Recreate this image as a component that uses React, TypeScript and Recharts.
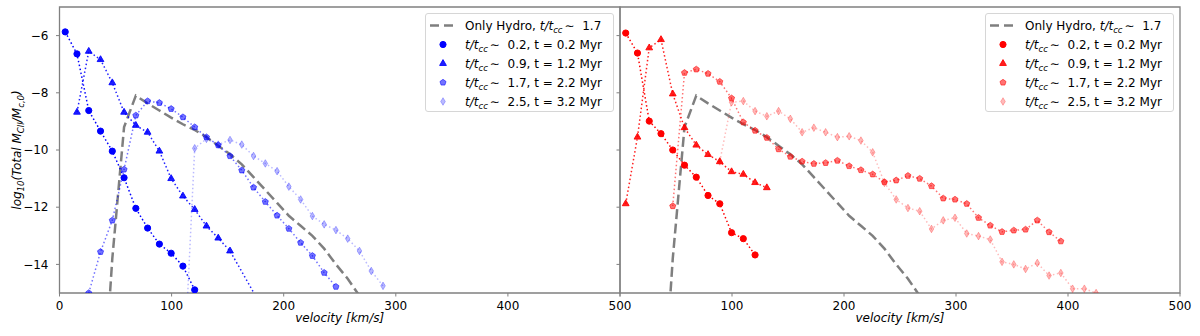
import { LineChart, Line, XAxis, YAxis, ReferenceArea } from "recharts";

// velocity bin centres (km/s), shared by every curve
const VELOCITY = [
  5.1, 15.6, 26.1, 36.6, 47.1, 57.6, 68.1, 78.6, 89.1, 99.6, 110.1, 120.6, 131.1, 141.6,
  152.1, 162.6, 173.1, 183.6, 194.1, 204.6, 215.1, 225.6, 236.1, 246.6, 257.1, 267.6,
  278.1, 288.6, 299.1, 309.6, 320.1, 330.6, 341.1, 351.6, 362.1, 372.6, 383.1, 393.6,
  404.1, 414.6, 425.1,
];

// only-hydro run, same curve in both panels
const HYDRO = [
  null, null, null, -20, -13.8, -9.2, -8.1, -8.37, -8.62, -8.87, -9.1, -9.3, -9.55, -9.85,
  -10.15, -10.5, -10.95, -11.4, -11.85, -12.3, -12.65, -13.0, -13.45, -14.0, -14.5, -15.1,
  -15.6,
];

// left panel (blue)
const BLUE_T02 = [-5.87, -6.64, -8.62, -9.34, -10.04, -10.97, -12.04, -12.73, -13.29, -13.61, -14.06, -14.89];
const BLUE_T09 = [
  null, -8.68, -6.55, -6.84, -7.65, -8.68, -9.14, -9.38, -10.04, -11.0, -11.61, -12.08, -12.66,
  -13.08, -13.53, null, null, -15.7,
];
const BLUE_T17 = [
  null, null, -15.0, -13.56, -12.46, -10.68, -8.79, -8.29, -8.35, -8.56, -8.85, -9.2, -9.55,
  -9.83, -10.21, -10.71, -11.31, -11.81, -12.29, -12.75, -13.24, -13.7, -14.29, -14.78,
];
const BLUE_T25 = [
  null, null, null, null, null, null, null, null, null, null, -18.5, -9.94, -9.61, -9.81,
  -9.65, -9.81, -10.21, -10.47, -10.74, -11.28, -11.73, -12.31, -12.6, -12.8, -13.1, -13.53,
  -14.23, -14.75,
];

// right panel (red)
const RED_T02 = [-5.91, -6.61, -8.99, -9.43, -10.0, -10.53, -10.95, -11.59, -11.88, -12.89, -13.1, -13.67];
const RED_T09 = [-11.88, -9.55, -6.43, -6.14, -8.04, -9.22, -9.83, -10.16, -10.41, -10.76, -10.85, -11.14, -11.32];
const RED_T17 = [
  null, null, null, null, -11.96, -7.3, -7.18, -7.33, -7.61, -8.19, -9.03, -9.32, -9.57, -9.97,
  -10.23, -10.4, -10.48, -10.45, -10.37, -10.56, -10.7, -10.85, -11.12, -11.06, -10.9, -11.0,
  -11.26, -11.69, -11.73, -11.88, -12.37, -12.64, -12.86, -12.81, -12.78, -12.46, -12.87, -13.19,
];
const RED_T25 = [
  null, null, null, null, null, null, null, null, -10.4, -8.33, -8.29, -8.64, -8.82, -8.64,
  -8.91, -9.38, -9.22, -9.38, -9.55, -9.52, -9.67, -10.08, -11.15, -11.73, -12.03, -12.14,
  -12.76, -12.46, -12.37, -12.92, -13.01, -13.13, -13.91, -14.0, -14.16, -13.95, -14.39,
  -14.3, -14.85, -14.85, -15.0,
];

const T_CC = ["0.2", "0.9", "1.7", "2.5"];
const T_MYR = ["0.2", "1.2", "2.2", "3.2"];
const HYDRO_T_CC = "1.7";
const X_TICKS = [0, 100, 200, 300, 400, 500];
const Y_TICKS = [-14, -12, -10, -8, -6];

const FONT = "DejaVu Sans";
const SPINE = "#808080";
const HYDRO_COLOR = "#7f7f7f";
const SHAPES = ["circle", "triangle", "pentagon", "diamond"];
const ALPHAS = [1, 0.88, 0.55, 0.27];
const KEYS = ["t02", "t09", "t17", "t25"];

const buildRows = (series: (number | null)[][]) =>
  VELOCITY.map((v, i) => {
    const row: Record<string, number | null> = { v, hydro: HYDRO[i] ?? null };
    series.forEach((s, k) => {
      row[KEYS[k]] = s[i] ?? null;
    });
    return row;
  });

const LEFT_ROWS = buildRows([BLUE_T02, BLUE_T09, BLUE_T17, BLUE_T25]);
const RIGHT_ROWS = buildRows([RED_T02, RED_T09, RED_T17, RED_T25]);

function Marker({ shape, x, y, color, alpha }: any) {
  const common = { fill: color, fillOpacity: alpha, stroke: color, strokeOpacity: alpha, strokeWidth: 1 };
  if (shape === "circle") return <circle cx={x} cy={y} r={3.1} {...common} />;
  let pts: number[][] = [];
  if (shape === "triangle") {
    const r = 3.9;
    pts = [[x, y - r], [x + r * 0.866, y + r * 0.5], [x - r * 0.866, y + r * 0.5]];
  } else if (shape === "pentagon") {
    const r = 3.2;
    for (let k = 0; k < 5; k++) {
      const a = (-90 + 72 * k) * (Math.PI / 180);
      pts.push([x + r * Math.cos(a), y + r * Math.sin(a)]);
    }
  } else {
    pts = [[x, y - 3.8], [x + 2.3, y], [x, y + 3.8], [x - 2.3, y]];
  }
  return <polygon points={pts.map((p) => p.join(",")).join(" ")} {...common} />;
}

const makeDot = (shape: string, color: string, alpha: number) => (p: any) => {
  if (p.value == null || p.cy == null || Number.isNaN(p.cy)) return <g key={p.index} />;
  return <Marker key={p.index} shape={shape} x={p.cx} y={p.cy} color={color} alpha={alpha} />;
};

const minus = (v: number) => String(v).replace("-", "\u2212");
// right panel: its "0" sits under the left panel's "500"
const rightX = (v: number) => (v === 0 ? "" : String(v));

const XLabel = (props: any) => {
  const vb = props.viewBox || { x: 0, y: 293, width: 560 };
  return (
    <text x={vb.x + vb.width / 2} y={vb.y + 29} textAnchor="middle" fontFamily={FONT} fontSize={12} fontStyle="italic" fill="#000">
      velocity [km/s]
    </text>
  );
};

const YLabel = (props: any) => {
  const vb = props.viewBox || { y: 7, height: 286 };
  const cy = vb.y + vb.height / 2;
  return (
    <text x={21} y={cy} transform={`rotate(-90 21 ${cy})`} textAnchor="middle" fontFamily={FONT} fontSize={12} fontStyle="italic" fill="#000">
      log<tspan fontSize={8.5} dy={3}>10</tspan>
      <tspan dy={-3}>(Total M</tspan>
      <tspan fontSize={8.5} dy={3}>CII</tspan>
      <tspan dy={-3}>/M</tspan>
      <tspan fontSize={8.5} dy={3}>c,0</tspan>
      <tspan dy={-3}>)</tspan>
    </text>
  );
};

function Tcc() {
  return (
    <>
      <i>t/t</i>
      <i style={{ fontSize: 8.5, position: "relative", top: 3 }}>cc</i>
      <span style={{ marginLeft: 2 }}>{"\u223C"}</span>
    </>
  );
}

function LegendBox({ left, color }: { left: number; color: string }) {
  const row = { height: 19, display: "flex", alignItems: "center", whiteSpace: "nowrap" as const };
  return (
    <div
      style={{
        position: "absolute", left, top: 13, width: 189, height: 99, boxSizing: "border-box",
        border: "1px solid #d6d6d6", borderRadius: 3, background: "rgba(255,255,255,0.8)",
        fontFamily: FONT, fontSize: 12, color: "#000", paddingTop: 2,
      }}
    >
      <div style={row}>
        <svg width={39} height={19}>
          <line x1={4} x2={28} y1={9.5} y2={9.5} stroke={HYDRO_COLOR} strokeWidth={2.5} strokeDasharray="9 5" />
        </svg>
        <span>Only Hydro, <Tcc />&nbsp; {HYDRO_T_CC}</span>
      </div>
      {T_CC.map((t, k) => (
        <div style={row} key={t}>
          <svg width={39} height={19}>
            <Marker shape={SHAPES[k]} x={17} y={9.5} color={color} alpha={ALPHAS[k]} />
          </svg>
          <span><Tcc />&nbsp; {t}, t = {T_MYR[k]} Myr</span>
        </div>
      ))}
    </div>
  );
}

function Panel({ left, rows, color, yLabels }: any) {
  const tick = { fontSize: 12, fill: "#000", fontFamily: FONT };
  return (
    <div style={{ position: "absolute", left, top: 0 }}>
      <LineChart width={640} height={336} data={rows} margin={{ top: 7, right: 20, bottom: 0, left: 0 }}>
        <XAxis
          dataKey="v" type="number" domain={[0, 500]} ticks={X_TICKS} allowDataOverflow height={43}
          axisLine={false} tickLine={{ stroke: SPINE }} tickSize={3.5} tickMargin={5} tick={tick}
          tickFormatter={yLabels ? undefined : rightX} label={XLabel}
        />
        <YAxis
          type="number" domain={[-15, -5]} ticks={Y_TICKS} allowDataOverflow width={yLabels ? 59.5 : 60}
          axisLine={false} tickLine={{ stroke: SPINE }} tickSize={3.5} tickMargin={7.5} tick={tick}
          tickFormatter={yLabels ? minus : () => ""} label={yLabels ? YLabel : undefined}
        />
        <ReferenceArea x1={0} x2={500} y1={-15} y2={-5} fill="none" stroke={SPINE} strokeWidth={1.3} />
        <Line
          dataKey="hydro" type="linear" stroke={HYDRO_COLOR} strokeWidth={2.5} strokeDasharray="10 4.5"
          dot={false} isAnimationActive={false}
        />
        {KEYS.map((key, k) => (
          <Line
            key={key} dataKey={key} type="linear" stroke={color} strokeOpacity={ALPHAS[k]} strokeWidth={1.5}
            strokeDasharray="1.5 2.5" connectNulls dot={makeDot(SHAPES[k], color, ALPHAS[k])}
            activeDot={false} isAnimationActive={false}
          />
        ))}
      </LineChart>
    </div>
  );
}

export default function App() {
  return (
    <div style={{ position: "absolute", left: 0, top: 0, width: 1200, height: 336, background: "#fff", overflow: "hidden" }}>
      <Panel left={0} rows={LEFT_ROWS} color="#0000ff" yLabels />
      <Panel left={560} rows={RIGHT_ROWS} color="#ff0000" yLabels={false} />
      <LegendBox left={425} color="#0000ff" />
      <LegendBox left={985} color="#ff0000" />
    </div>
  );
}
